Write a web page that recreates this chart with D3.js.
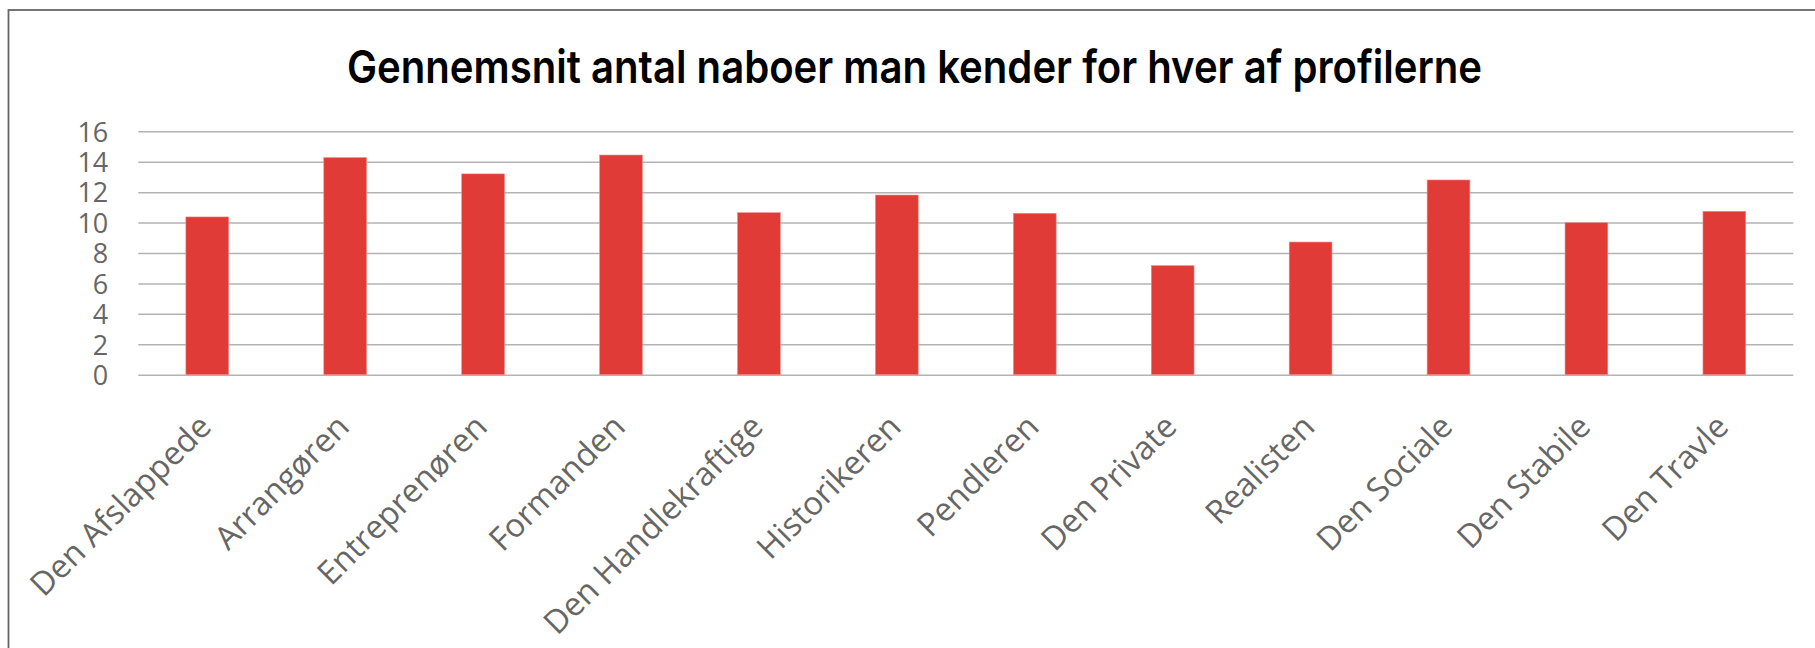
<!DOCTYPE html>
<html>
<head>
<meta charset="utf-8">
<script src="https://cdn.jsdelivr.net/npm/d3@7"></script>
<style>
  body { margin: 0; background: #fff; }
  svg { display: block; }
  .grid line { stroke: #b3b3b3; stroke-width: 1.5; }
</style>
</head>
<body>
<svg id="chart" width="1815" height="648"></svg>
<script>
/*
  BAR CHART
  Average number of neighbours known, per profile
*/
const title = 'Gennemsnit antal naboer man kender for hver af profilerne';

const categories = [
  'Den Afslappede', 'Arrangøren', 'Entreprenøren', 'Formanden',
  'Den Handlekraftige', 'Historikeren', 'Pendleren', 'Den Private',
  'Realisten', 'Den Sociale', 'Den Stabile', 'Den Travle'
];

const values = [10.37, 14.27, 13.2, 14.44, 10.65, 11.81, 10.61, 7.17, 8.72, 12.8, 9.99, 10.74];

const yTicks = [0, 2, 4, 6, 8, 10, 12, 14, 16];

// Dimensions of the plot area
const WIDTH = 1815;
const HEIGHT = 648;
const margin = { left: 138.3, right: 1793.3, top: 131.3, bottom: 374.7 };
const LABEL_FONT = "'Open Sans', sans-serif";

/**
 * Create scales
 */
const scale = {};
scale.x = d3.scaleBand()
  .domain(categories)
  .range([margin.left, margin.right])
  .paddingInner(0.69)
  .paddingOuter(0.345);

scale.y = d3.scaleLinear()
  .domain([0, 16])
  .range([margin.bottom, margin.top]);

/**
 * Initialize SVG elements and groups
 */
const dom = {};
dom.svg = d3.select('#chart');

// frame round the chart, right and bottom edges fall outside the picture
dom.svg.append('rect')
  .attr('x', 8.5)
  .attr('y', 10)
  .attr('width', WIDTH + 50)
  .attr('height', HEIGHT + 50)
  .attr('fill', 'none')
  .attr('stroke', '#666')
  .attr('stroke-width', 1.8);

dom.svg.append('text')
  .attr('x', 347)
  .attr('y', 83)
  .attr('textLength', 1135)
  .attr('lengthAdjust', 'spacingAndGlyphs')
  .style('font-family', 'Inter, sans-serif')
  .style('font-weight', 600)
  .style('font-size', '45px')
  .style('fill', '#000')
  .text(title);

/*
 * Axis functions
 */
const axis = {};

axis.grid = d3.axisLeft(scale.y)
  .tickValues(yTicks)
  .tickSize(-(margin.right - margin.left))
  .tickFormat('');

axis.y = d3.axisLeft(scale.y)
  .tickValues(yTicks)
  .tickSize(0)
  .tickPadding(30);

axis.x = d3.axisBottom(scale.x)
  .tickSize(0);

dom.grid = dom.svg.append('g')
  .attr('class', 'grid')
  .attr('transform', `translate(${margin.left}, 0)`)
  .call(axis.grid);
dom.grid.select('.domain').remove();

dom.axis = {};
dom.axis.y = dom.svg.append('g')
  .attr('class', 'yAxis')
  .attr('transform', `translate(${margin.left}, 0)`)
  .call(axis.y);
dom.axis.y.select('.domain').remove();
dom.axis.y.selectAll('text')
  .attr('dy', '0.36em')
  .style('font-family', LABEL_FONT)
  .style('font-size', '27px')
  .style('fill', '#666');

/*
 * Bars
 */
dom.svg.append('g')
  .selectAll('rect')
  .data(values)
  .join('rect')
  .attr('x', (d, i) => scale.x(categories[i]))
  .attr('y', d => scale.y(d))
  .attr('width', scale.x.bandwidth())
  .attr('height', d => scale.y(0) - scale.y(d))
  .attr('fill', '#e03b36')
  .attr('stroke', '#f08a86')
  .attr('stroke-width', 0.6);

dom.axis.x = dom.svg.append('g')
  .attr('class', 'xAxis')
  .attr('transform', `translate(0, ${margin.bottom})`)
  .call(axis.x);
dom.axis.x.select('.domain').remove();
dom.axis.x.selectAll('text')
  .attr('x', 0)
  .attr('y', 0)
  .attr('dy', 0)
  .attr('transform', 'translate(6, 54) rotate(-45)')
  .attr('text-anchor', 'end')
  .style('font-family', LABEL_FONT)
  .style('font-size', '32.5px')
  .style('fill', '#666');
</script>
</body>
</html>
